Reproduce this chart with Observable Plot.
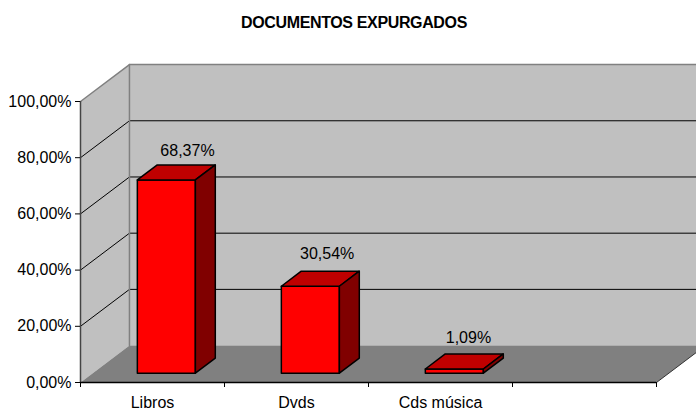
<!DOCTYPE html>
<html>
<head>
<meta charset="utf-8">
<script src="https://cdn.jsdelivr.net/npm/d3@7"></script>
<script src="https://cdn.jsdelivr.net/npm/@observablehq/plot@0.6"></script>
<style>
  html, body { margin: 0; padding: 0; background: #fff; overflow: hidden; }
  #title { height: 50px; box-sizing: border-box; padding: 15px 0 0 12px; text-align: center;
    font: bold 16px/16px "Liberation Sans", Arial, sans-serif; color: #000; letter-spacing: -0.36px; }
  svg { display: block; }
</style>
</head>
<body>
<div id="title">DOCUMENTOS EXPURGADOS</div>
<div id="chart"></div>
<script>
const categories = ["Libros", "Dvds", "Cds música"];
const values = [68.37, 30.54, 1.09];
const valueLabels = ["68,37%", "30,54%", "1,09%"];
const yTicks = [0, 20, 40, 60, 80, 100];
const xTicks = [0, 1, 2, 3, 4];
const slots = 4;

// 3D projection, in data units (category slots, percent)
const depthX = 0.34, depthY = 13.14;
const barWidth = 0.403, barFront = 0.283, barBack = 0.69, barBase = -0.4;
const labelX = [0.743, 0.713, 0.694], labelY = [13.97, 15.4, 14.8];

const project = (x, y, depth) => ({x: x + depth * depthX, y: y + depth * depthY});
const poly = (pts, fill, stroke, strokeWidth) =>
  Plot.line([...pts, pts[0]], {x: "x", y: "y", fill, stroke, strokeWidth, strokeLinejoin: "round"});

const walls = [
  poly([project(0,0,0), project(0,0,1), project(0,100,1), project(0,100,0)], "#c0c0c0", "none", 0),
  poly([project(0,0,1), project(slots,0,1), project(slots,100,1), project(0,100,1)], "#c0c0c0", "none", 0),
];
const grid = yTicks.filter(v => v > 0 && v < 100).map(v =>
  Plot.line([project(0,v,0), project(0,v,1), project(slots,v,1)], {x: "x", y: "y", stroke: "#000", strokeWidth: 1}));
const frame = [
  Plot.line([project(0,100,0), project(0,100,1), project(slots,100,1)], {x: "x", y: "y", stroke: "#808080", strokeWidth: 1.5}),
  Plot.line([project(0,0,1), project(0,100,1)], {x: "x", y: "y", stroke: "#808080", strokeWidth: 1.5}),
];
const floor = poly([project(0,0,0), project(slots,0,0), project(slots,0,1), project(0,0,1)], "#808080", "none", 0);
const floorEdge = Plot.line([project(slots,0,0), project(slots,0,1)], {x: "x", y: "y", stroke: "#333", strokeWidth: 1});

const bars = values.flatMap((v, i) => {
  const l = i + 0.5 - barWidth / 2, r = i + 0.5 + barWidth / 2;
  const a = barFront, b = barBack;
  return [
    poly([project(l,barBase,a), project(r,barBase,a), project(r,v,a), project(l,v,a)], "#ff0000", "#000", 1.5),
    poly([project(l,v,a), project(r,v,a), project(r,v,b), project(l,v,b)], "#bf0000", "#000", 1.5),
    poly([project(r,barBase,a), project(r,barBase,b), project(r,v,b), project(r,v,a)], "#800000", "#000", 1.5),
  ];
});

const chart = Plot.plot({
  width: 696,
  height: 360,
  marginLeft: 80,
  marginRight: 40,
  marginTop: 51,
  marginBottom: 28,
  style: {fontFamily: '"Liberation Sans", Arial, sans-serif', fontSize: "16px", color: "#000", background: "#fff"},
  x: {domain: [0, slots], axis: null},
  y: {domain: [0, 100], axis: null},
  marks: [
    ...walls,
    ...grid,
    floor,
    ...frame,
    floorEdge,
    ...bars,
    Plot.ruleX([0], {y1: 0, y2: 100, stroke: "#444", strokeWidth: 1.5}),
    Plot.ruleY([0], {x1: 0, x2: slots, stroke: "#000", strokeWidth: 1.5}),
    Plot.axisY({ticks: yTicks, tickSize: 5, tickPadding: 4, fontSize: 16, stroke: "#000", label: null,
      tickFormat: d => d.toFixed(2).replace(".", ",") + "%"}),
    Plot.axisX({ticks: xTicks, tickSize: 5, tickFormat: () => "", stroke: "#000", label: null}),
    Plot.axisX({ticks: categories.map((c, i) => i + 0.5), tickSize: 0, tickPadding: 14, fontSize: 16, label: null,
      tickFormat: d => categories[Math.floor(d)]}),
    Plot.text(values, {
      x: (d, i) => i + labelX[i],
      y: (d, i) => d + labelY[i],
      text: (d, i) => valueLabels[i],
      fontSize: 16,
      fill: "#000"
    })
  ]
});
document.getElementById("chart").append(chart);
</script>
</body>
</html>
